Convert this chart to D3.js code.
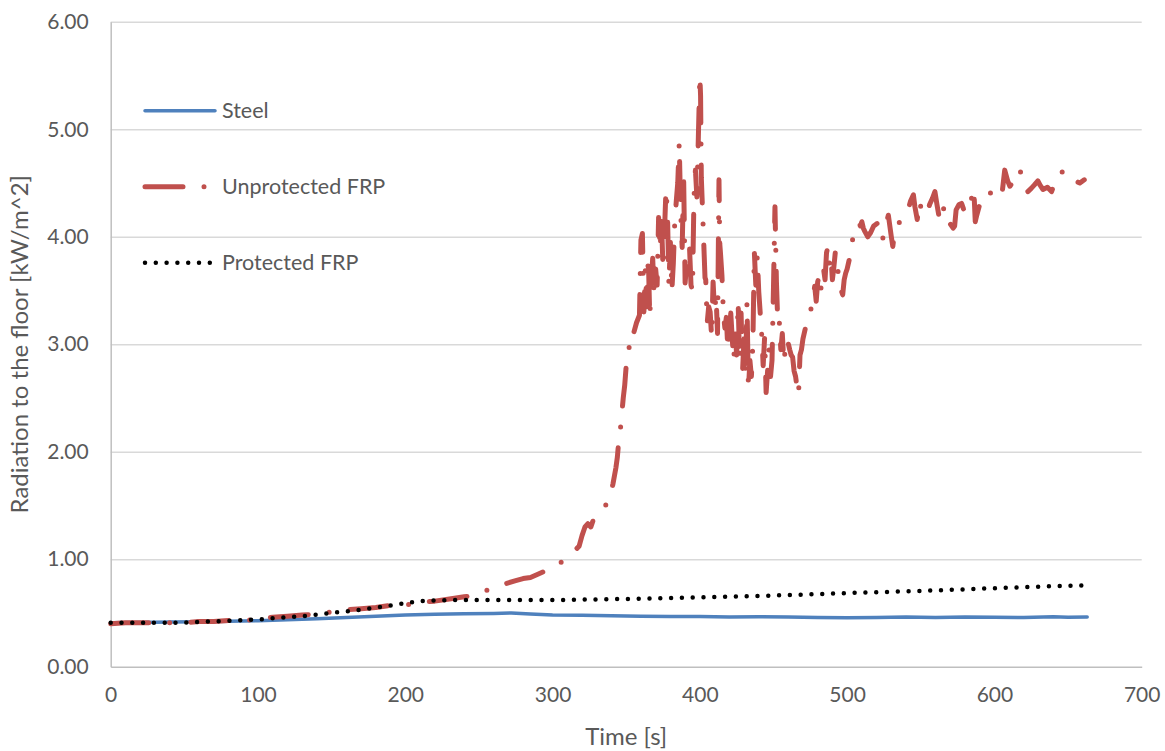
<!DOCTYPE html>
<html>
<head>
<meta charset="utf-8">
<script src="https://cdn.jsdelivr.net/npm/d3@7"></script>
<style>
  body { margin: 0; background: #fff; }
  text { font-family: Lato, "Open Sans", sans-serif; fill: #595959; }
</style>
</head>
<body>
<script>
// series data [time s, radiation kW/m^2]
var steel = [
  [0, 0.41], [20, 0.412], [40, 0.415], [60, 0.418], [80, 0.422], [100, 0.428], [120, 0.436],
  [140, 0.445], [160, 0.458], [180, 0.47], [200, 0.482], [220, 0.488], [240, 0.492], [260, 0.495],
  [272, 0.5], [285, 0.49], [300, 0.48], [320, 0.478], [340, 0.473], [360, 0.47], [380, 0.468],
  [400, 0.466], [420, 0.462], [440, 0.464], [460, 0.462], [480, 0.458], [500, 0.456], [520, 0.458],
  [540, 0.462], [560, 0.458], [580, 0.463], [600, 0.46], [620, 0.458], [640, 0.465], [650, 0.46], [663, 0.462]
];

var unprotected = [
  [0, 0.4], [10, 0.41], [20, 0.41], [30, 0.41], [40, 0.41], [50, 0.41], [60, 0.42], [70, 0.42],
  [80, 0.43], [90, 0.43], [100, 0.44], [110, 0.46], [120, 0.47], [130, 0.48], [140, 0.49],
  [150, 0.51], [160, 0.53], [170, 0.54], [180, 0.55], [190, 0.57], [200, 0.57], [205, 0.59],
  [210, 0.6], [220, 0.61], [230, 0.63], [240, 0.65], [245, 0.66], [250, 0.68], [255, 0.71],
  [260, 0.73], [265, 0.76], [270, 0.78], [275, 0.8], [280, 0.82], [285, 0.83], [290, 0.86],
  [295, 0.89], [300, 0.92], [304, 0.95], [308, 1.0], [312, 1.04], [315, 1.08], [318, 1.12],
  [320, 1.22], [322, 1.3], [324, 1.33], [326, 1.3], [328, 1.38], [330, 1.4], [333, 1.45],
  [336, 1.5], [339, 1.58], [341, 1.7], [343, 1.85], [344, 1.95], [345, 2.11], [346, 2.2],
  [347, 2.35], [348, 2.5], [349, 2.62], [350, 2.8], [351, 2.93], [352, 2.97], [353, 2.95],
  [354, 3.05], [355, 3.1], [357, 3.2], [359, 3.27], [360, 3.97], [361, 4.03], [362, 3.3],
  [363, 3.7], [364, 3.35], [365, 3.82], [366, 3.25], [367, 3.6], [368, 3.8], [369, 3.45],
  [370, 3.7], [371, 3.55], [372, 4.18], [373, 3.88], [374, 4.15], [375, 3.7], [376, 4.05],
  [377, 4.44], [378, 4.23], [379, 3.55], [380, 3.95], [381, 3.5], [382, 3.75], [383, 4.15],
  [384, 4.33], [385, 4.5], [386, 4.87], [387, 4.22], [388, 3.9], [389, 4.55], [390, 3.57],
  [391, 3.75], [392, 3.65], [393, 3.9], [394, 3.55], [395, 3.5], [396, 4.36], [397, 4.62],
  [398, 4.37], [399, 4.93], [400, 5.5], [400.5, 5.31], [401, 4.55], [402, 4.19], [403, 3.81],
  [403.5, 3.62], [404, 3.6], [405, 3.2], [406, 3.35], [407, 3.3], [408, 3.07], [409, 3.58],
  [410, 3.3], [411, 3.45], [412, 3.1], [413, 4.53], [413.5, 3.94], [414, 3.85], [415, 3.64],
  [416, 3.29], [417, 3.15], [418, 3.25], [419, 2.95], [420, 3.1], [421, 3.29], [422, 3.05],
  [423, 2.85], [424, 3.1], [425, 2.9], [426, 3.39], [427, 2.85], [428, 3.29], [429, 2.75],
  [430, 3.05], [431, 2.7], [432, 3.39], [433, 2.58], [434, 2.85], [435, 2.7], [436, 3.0],
  [437, 3.86], [438, 3.55], [439, 3.82], [440, 3.49], [441, 3.29], [442, 3.1], [443, 2.8],
  [444, 3.07], [445, 2.55], [446, 2.75], [447, 2.95], [448, 2.7], [449, 2.85], [450, 3.53],
  [451, 4.28], [452, 3.58], [453, 3.17], [454, 3.2], [455, 2.95], [456, 3.1], [457, 2.83],
  [458, 2.95], [459, 3.05], [460, 3.01], [461, 2.95], [462, 2.9], [463, 2.88], [464, 2.75],
  [465, 2.7], [466, 2.6], [467, 2.53], [468, 2.9], [469, 2.95], [470, 3.05], [472, 3.17],
  [474, 3.26], [475, 3.31], [476, 3.35], [477, 3.45], [478, 3.54], [479, 3.4], [480, 3.58],
  [481, 3.63], [482, 3.5], [483, 3.6], [484, 3.7], [485, 3.6], [486, 3.85], [487, 3.91],
  [488, 3.75], [489, 3.82], [490, 3.6], [491, 3.72], [492, 3.86], [493, 3.8], [494, 3.65],
  [495, 3.55], [496, 3.5], [497, 3.46], [498, 3.6], [499, 3.66], [500, 3.7], [502, 3.82],
  [504, 4.0], [506, 4.06], [508, 4.13], [509, 4.1], [510, 4.14], [511, 4.08], [512, 4.05],
  [514, 4.0], [516, 4.04], [518, 4.1], [519, 4.11], [521, 4.13], [522, 4.07], [524, 3.97],
  [526, 4.1], [528, 4.2], [529, 4.1], [530, 4.0], [531, 3.91], [532, 4.02], [533.6, 4.08],
  [535, 4.12], [537, 4.18], [540, 4.22], [542, 4.28], [543, 4.33], [545, 4.39], [546, 4.28],
  [547.6, 4.16], [549, 4.33], [550, 4.28], [552, 4.24], [554, 4.2], [556, 4.3], [558, 4.36],
  [559.6, 4.42], [561, 4.3], [563, 4.14], [564, 4.2], [566, 4.28], [568, 4.2], [570, 4.12],
  [572, 4.08], [573, 4.1], [574, 4.25], [576, 4.3], [577.7, 4.31], [579, 4.26], [581, 4.22],
  [583, 4.3], [585, 4.38], [586, 4.45], [587, 4.14], [588, 4.2], [590, 4.3], [591, 4.36],
  [593, 4.38], [596, 4.42], [598, 4.4], [600, 4.36], [603, 4.38], [605, 4.38], [607, 4.62],
  [609, 4.52], [610.5, 4.47], [612, 4.5], [614, 4.55], [617, 4.63], [620, 4.52], [622.7, 4.42],
  [625, 4.45], [627, 4.48], [629.5, 4.52], [631, 4.48], [633, 4.44], [636, 4.46], [638.8, 4.42],
  [641, 4.5], [643, 4.58], [645, 4.59], [646.7, 4.61], [648, 4.58], [650, 4.55], [652.4, 4.52],
  [655, 4.52], [658, 4.5], [661, 4.53]
];

var protectedFrp = [
  [0, 0.41], [25, 0.41], [50, 0.41], [75, 0.425], [100, 0.44], [115, 0.455], [130, 0.47],
  [150, 0.5], [170, 0.53], [185, 0.56], [195, 0.58], [205, 0.6], [215, 0.615], [230, 0.62],
  [260, 0.62], [300, 0.62], [350, 0.63], [400, 0.645], [450, 0.662], [500, 0.685],
  [550, 0.705], [600, 0.73], [630, 0.745], [662, 0.757]
];

var seriesNames = ['Steel', 'Unprotected FRP', 'Protected FRP'];
var xTicks = [0, 100, 200, 300, 400, 500, 600, 700];
var yTicks = [0, 1, 2, 3, 4, 5, 6];

var width = 1165, height = 751;
var plot = { left: 110.7, right: 1141.7, top: 21.8, bottom: 666.7 };

var svg = d3.select('body').append('svg')
  .attr('width', width)
  .attr('height', height);

svg.append('rect').attr('width', width).attr('height', height).attr('fill', '#fff');

var x = d3.scaleLinear().domain([0, 700]).range([plot.left, plot.right]);
var y = d3.scaleLinear().domain([0, 6]).range([plot.bottom, plot.top]);

// gridlines
svg.append('g')
  .attr('transform', 'translate(' + plot.left + ',0)')
  .call(d3.axisLeft(y).tickValues(yTicks.slice(1)).tickSize(-(plot.right - plot.left)).tickFormat(''))
  .call(function(g) {
    g.select('.domain').remove();
    g.selectAll('line').attr('stroke', '#d9d9d9').attr('stroke-width', 1.5);
  });

// y axis labels
var yAxis = svg.append('g')
  .attr('transform', 'translate(' + plot.left + ',0)')
  .call(d3.axisLeft(y).tickValues(yTicks).tickSize(0).tickPadding(22).tickFormat(d3.format('.2f')));
yAxis.select('.domain').attr('stroke', '#bfbfbf').attr('stroke-width', 1.5);
yAxis.selectAll('text').style('font-size', '21px').attr('fill', '#595959');

// x axis
var xAxis = svg.append('g')
  .attr('transform', 'translate(0,' + plot.bottom + ')')
  .call(d3.axisBottom(x).tickValues(xTicks).tickSize(0).tickPadding(20));
xAxis.select('.domain').attr('stroke', '#bfbfbf').attr('stroke-width', 1.5);
xAxis.selectAll('text').style('font-size', '21px').attr('fill', '#595959');

// axis titles
svg.append('text')
  .attr('x', (plot.left + plot.right) / 2)
  .attr('y', 745)
  .attr('text-anchor', 'middle')
  .style('font-size', '24px')
  .text('Time [s]');

svg.append('text')
  .attr('transform', 'translate(28,' + ((plot.top + plot.bottom) / 2) + ') rotate(-90)')
  .attr('text-anchor', 'middle')
  .style('font-size', '24px')
  .text('Radiation to the floor [kW/m^2]');

var line = d3.line()
  .x(function(d) { return x(d[0]); })
  .y(function(d) { return y(d[1]); });

var styles = [
  { color: '#4f81bd', width: 3.5, dash: null },
  { color: '#c0504d', width: 5, dash: '38 21 0 21' },
  { color: '#000000', width: 4.5, dash: '0 10.8' }
];
var series = [steel, unprotected, protectedFrp];

series.forEach(function(data, i) {
  svg.append('path')
    .datum(data)
    .attr('d', line)
    .attr('fill', 'none')
    .attr('stroke', styles[i].color)
    .attr('stroke-width', styles[i].width)
    .attr('stroke-linecap', 'round')
    .attr('stroke-linejoin', 'round')
    .attr('stroke-dasharray', styles[i].dash);
});

// legend
var legend = svg.append('g');
seriesNames.forEach(function(name, i) {
  var ly = 110.7 + i * 76;
  legend.append('line')
    .attr('x1', 145).attr('x2', 215)
    .attr('y1', ly).attr('y2', ly)
    .attr('stroke', styles[i].color)
    .attr('stroke-width', styles[i].width)
    .attr('stroke-linecap', 'round')
    .attr('stroke-dasharray', styles[i].dash);
  legend.append('text')
    .attr('x', 222)
    .attr('y', ly)
    .attr('dy', '0.35em')
    .style('font-size', '21.5px')
    .text(name);
});
</script>
</body>
</html>
